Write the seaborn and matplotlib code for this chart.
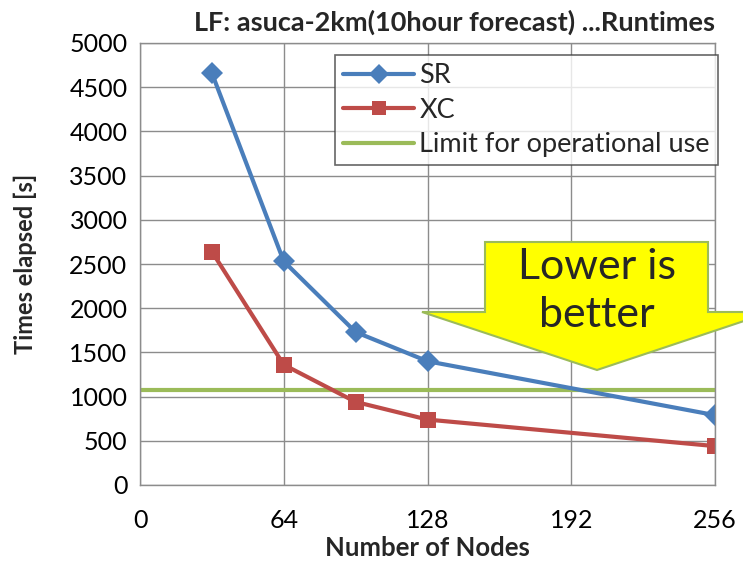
import matplotlib
matplotlib.use("Agg")
import matplotlib.pyplot as plt
import seaborn as sns
import pandas as pd
from matplotlib.patches import Polygon
from matplotlib.lines import Line2D

nodes = [32, 64, 96, 128, 256]
sr_times = [4660, 2530, 1730, 1400, 790]
xc_times = [2640, 1360, 940, 740, 440]
limit = 1080
x_ticks = [0, 64, 128, 192, 256]
y_ticks = list(range(0, 5001, 500))

df = pd.DataFrame({
    "Nodes": nodes * 2,
    "Time": sr_times + xc_times,
    "Series": ["SR"] * len(nodes) + ["XC"] * len(nodes),
})

sns.set_theme(style="white")
plt.rcParams['font.family'] = ['Lato', 'DejaVu Sans']

fig = plt.figure(figsize=(7.43, 5.62), dpi=100)
ax = fig.add_axes([140/743, 1-485/562, (715-140)/743, (485-43)/562])

palette = {"SR": "#4A7EBB", "XC": "#BE4B48"}
sns.lineplot(data=df, x="Nodes", y="Time", hue="Series", style="Series",
             markers={"SR": "D", "XC": "s"}, dashes=False, palette=palette,
             linewidth=3, markersize=11, markeredgewidth=0, ax=ax, legend=False)
ax.axhline(limit, color="#9BBB59", linewidth=3, zorder=1)

ax.set_xlim(0, 256)
ax.set_ylim(0, 5000)
ax.set_xticks(x_ticks)
ax.set_yticks(y_ticks)
ax.tick_params(axis="both", labelsize=18, length=0, colors="black")
ax.tick_params(axis="x", pad=17)
ax.tick_params(axis="y", pad=9)
ax.grid(True, color="#8C8C8C", linewidth=1)
for s in ax.spines.values():
    s.set_color("#8C8C8C")
    s.set_linewidth(1)

ax.set_xlabel("Number of Nodes", fontsize=18.5, fontweight="bold", va="center")
ax.xaxis.set_label_coords(0.5, -(548 - 485) / 442)
ax.set_ylabel("Times elapsed [s]", fontsize=17, fontweight="bold", va="center")
ax.yaxis.set_label_coords(-(140 - 25) / 575, 0.5)
fig.text(454/743, 1-22/562, "LF: asuca-2km(10hour forecast) ...Runtimes",
         ha="center", va="center", fontsize=19.5, fontweight="bold")

handles = [
    Line2D([0], [0], color="#4A7EBB", lw=3, marker="D", ms=10, mew=0),
    Line2D([0], [0], color="#BE4B48", lw=3, marker="s", ms=10, mew=0),
    Line2D([0], [0], color="#9BBB59", lw=3),
]
leg = ax.legend(handles, ["SR", "XC", "Limit for operational use"],
                loc="upper right", bbox_to_anchor=(1.005, 0.973), fontsize=19.5,
                frameon=True, fancybox=False, edgecolor="#404040",
                handlelength=2.6, handletextpad=0.2, labelspacing=0.35,
                borderpad=0.3, borderaxespad=0)
leg.get_frame().set_linewidth(1.2)

# "Lower is better" arrow annotation (pixel positions mapped to data coords)
def px(xp, yp):
    return ((xp - 140) / 143.75 * 64, (485 - yp) / 0.0884)

pts = [px(485, 242), px(708, 242), px(708, 312), px(771, 312),
       px(597, 370), px(422, 312), px(485, 312)]
arrow = Polygon(pts, closed=True, facecolor="#FFFF00", edgecolor="#9BBB59",
                linewidth=1.5, clip_on=False, zorder=5)
ax.add_patch(arrow)
tx, ty = px(597, 291)
ax.text(tx, ty, "Lower is\nbetter", ha="center", va="center", fontsize=31,
        linespacing=1.3, zorder=6, clip_on=False)

fig.savefig("out.png", dpi=100)
